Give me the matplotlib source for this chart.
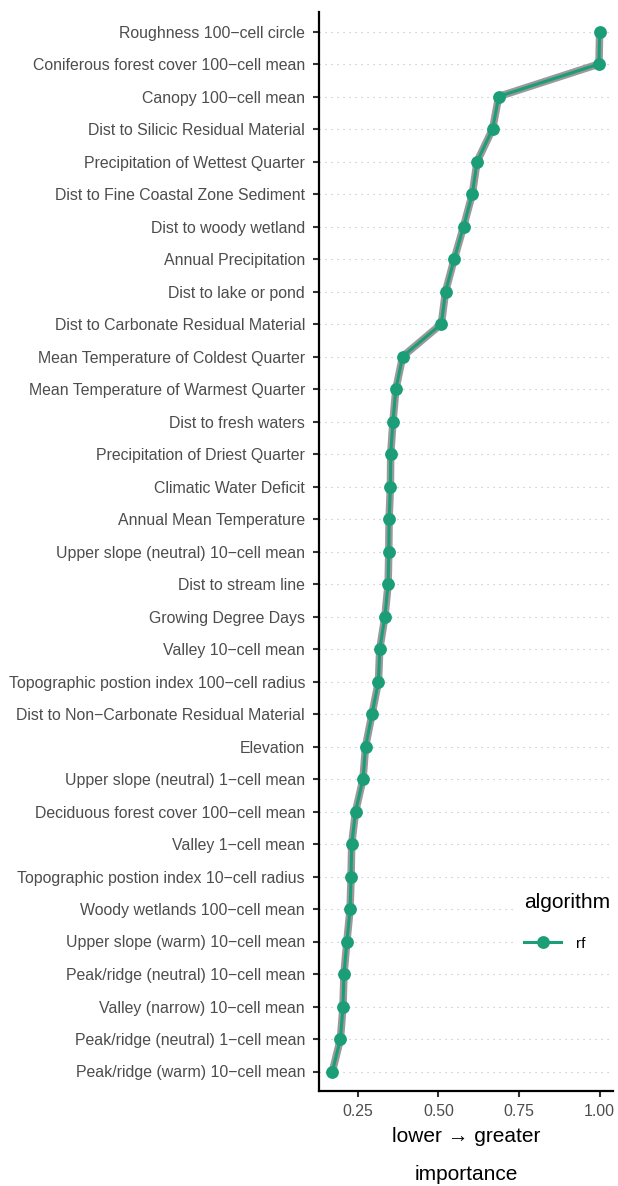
import matplotlib
matplotlib.use("Agg")
import numpy as np
import matplotlib.pyplot as plt
from matplotlib.lines import Line2D

# variables, top to bottom
variables = [
    "Roughness 100\u2212cell circle",
    "Coniferous forest cover 100\u2212cell mean",
    "Canopy 100\u2212cell mean",
    "Dist to Silicic Residual Material",
    "Precipitation of Wettest Quarter",
    "Dist to Fine Coastal Zone Sediment",
    "Dist to woody wetland",
    "Annual Precipitation",
    "Dist to lake or pond",
    "Dist to Carbonate Residual Material",
    "Mean Temperature of Coldest Quarter",
    "Mean Temperature of Warmest Quarter",
    "Dist to fresh waters",
    "Precipitation of Driest Quarter",
    "Climatic Water Deficit",
    "Annual Mean Temperature",
    "Upper slope (neutral) 10\u2212cell mean",
    "Dist to stream line",
    "Growing Degree Days",
    "Valley 10\u2212cell mean",
    "Topographic postion index 100\u2212cell radius",
    "Dist to Non\u2212Carbonate Residual Material",
    "Elevation",
    "Upper slope (neutral) 1\u2212cell mean",
    "Deciduous forest cover 100\u2212cell mean",
    "Valley 1\u2212cell mean",
    "Topographic postion index 10\u2212cell radius",
    "Woody wetlands 100\u2212cell mean",
    "Upper slope (warm) 10\u2212cell mean",
    "Peak/ridge (neutral) 10\u2212cell mean",
    "Valley (narrow) 10\u2212cell mean",
    "Peak/ridge (neutral) 1\u2212cell mean",
    "Peak/ridge (warm) 10\u2212cell mean",
]
importance_rf = [
    1.000, 0.998, 0.687, 0.668, 0.620, 0.605, 0.578, 0.549, 0.522, 0.509,
    0.389, 0.368, 0.359, 0.352, 0.351, 0.347, 0.346, 0.344, 0.334, 0.318,
    0.314, 0.294, 0.274, 0.266, 0.243, 0.231, 0.229, 0.226, 0.216, 0.207,
    0.204, 0.196, 0.171,
]
xticks = [0.25, 0.50, 0.75, 1.00]

green = "#1B9E77"
plt.rcParams["font.family"] = ["Liberation Sans", "DejaVu Sans"]

W, H = 618, 1186
fig = plt.figure(figsize=(W / 100, H / 100), dpi=100)
ax = fig.add_axes([319 / W, 1 - 1091 / H, (613 - 319) / W, (1091 - 12) / H])

y = np.arange(len(variables))
ax.plot(importance_rf, y, color="#999999", lw=5.4, solid_capstyle="round",
        solid_joinstyle="round", zorder=2)
ax.plot(importance_rf, y, color=green, lw=2.2, marker="o", ms=8.2,
        solid_joinstyle="round", zorder=3)

lo, hi = min(importance_rf), max(importance_rf)
pad = (hi - lo) * 0.05
ax.set_xlim(lo - pad, hi + pad)
ax.set_ylim(len(variables) - 1 + 0.6, -0.6)

ax.set_yticks(y)
ax.set_yticklabels(variables)
ax.set_xticks(xticks)
ax.set_xticklabels(["%.2f" % t for t in xticks])
ax.grid(axis="y", color="#BBBBBB", lw=0.8, ls=(0, (1, 4.4)), zorder=1)
ax.set_axisbelow(True)

for s in ["top", "right"]:
    ax.spines[s].set_visible(False)
for s in ["left", "bottom"]:
    ax.spines[s].set_linewidth(1.6)
    ax.spines[s].set_color("black")
ax.tick_params(axis="both", length=4.5, width=1.5, color="#333333",
               labelcolor="#4D4D4D", labelsize=11.4)
ax.tick_params(axis="y", pad=5.5)
ax.tick_params(axis="x", pad=5)

fig.text(466 / W, 1 - 1141.5 / H, "lower \u2192 greater", ha="center",
         va="baseline", fontsize=15)
fig.text(466 / W, 1 - 1180 / H, "importance", ha="center",
         va="baseline", fontsize=15)

handle = Line2D([], [], color=green, lw=2.2, marker="o", ms=8.2)
leg = ax.legend([handle], ["rf"], title="algorithm", loc="upper left",
                bbox_to_anchor=(515 / W, 1 - 884 / H),
                bbox_transform=fig.transFigure, frameon=True,
                fontsize=11, title_fontsize=15, handlelength=2.4,
                borderpad=0.6, labelspacing=1.6, handletextpad=1.0,
                borderaxespad=0)
leg.get_frame().set_facecolor("white")
leg.get_frame().set_edgecolor("none")
leg.get_frame().set_alpha(1)
leg._legend_box.align = "left"

fig.savefig("out.png", dpi=100)
